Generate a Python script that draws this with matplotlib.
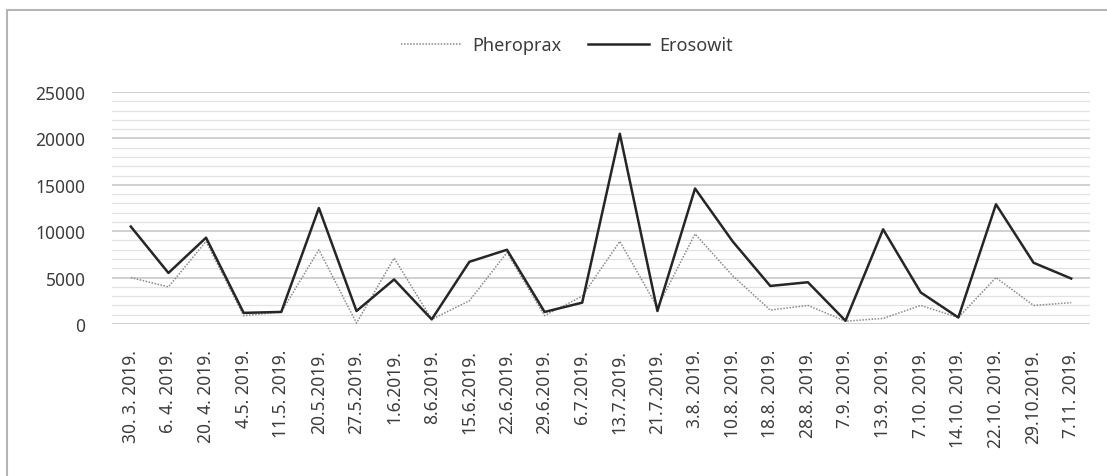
import numpy as np
import matplotlib
matplotlib.use("Agg")
from matplotlib import pyplot as plt
from matplotlib.patches import Rectangle

plt.rcParams['font.family'] = ['Noto Sans', 'DejaVu Sans']

# Dates (category labels, as printed in the source)
dates = ["30. 3. 2019.", "6. 4. 2019.", "20. 4. 2019.", "4.5. 2019.", "11.5. 2019.",
         "20.5.2019.", "27.5.2019.", "1.6.2019.", "8.6.2019.", "15.6.2019.",
         "22.6.2019.", "29.6.2019.", "6.7.2019.", "13.7.2019.", "21.7.2019.",
         "3.8. 2019.", "10.8. 2019.", "18.8. 2019.", "28.8. 2019.", "7.9. 2019.",
         "13.9. 2019.", "7.10. 2019.", "14.10. 2019.", "22.10. 2019.", "29.10.2019.",
         "7.11. 2019."]

pheroprax = [5000, 4000, 8900, 900, 1300, 8000, 100, 7100, 500, 2500,
             7700, 900, 3000, 8900, 1800, 9700, 5200, 1500, 2000, 300,
             600, 2000, 700, 5000, 2000, 2300]

erosowit = [10500, 5500, 9300, 1200, 1300, 12500, 1400, 4800, 500, 6700,
            8000, 1300, 2300, 20500, 1400, 14600, 8900, 4100, 4500, 350,
            10200, 3400, 700, 12900, 6600, 4900]

text_col = '#3c3c3c'

fig = plt.figure(figsize=(11.07, 4.77), dpi=100)
ax = fig.add_axes([112 / 1107, 1 - 325 / 477, (1090 - 112) / 1107, (325 - 93) / 477])

x = np.arange(len(dates))
ax.plot(x, pheroprax, color='#8a8a8a', lw=1.1, ls=(0, (1, 1)), label='Pheroprax', clip_on=False)
ax.plot(x, erosowit, color='#262626', lw=1.8, label='Erosowit', clip_on=False)

ax.set_xlim(-0.5, len(dates) - 0.5)
ax.set_ylim(0, 25000)
ax.set_yticks(np.arange(0, 25001, 5000))
ax.set_yticks(np.arange(0, 25001, 1000), minor=True)
ax.grid(axis='y', which='major', color='#c4c4c4', lw=1.1)
ax.grid(axis='y', which='minor', color='#e2e2e2', lw=0.9)
ax.set_axisbelow(True)
for s in ax.spines.values():
    s.set_visible(False)

ax.set_xticks(x)
ax.set_xticklabels(dates, rotation=90, fontsize=12.5, color=text_col)
ax.tick_params(axis='both', which='both', length=0, colors=text_col)
ax.tick_params(axis='x', pad=18)
ax.tick_params(axis='y', pad=19, labelsize=12.5)

leg = fig.legend(loc='center', bbox_to_anchor=(0.512, 1 - 46 / 477), ncol=2, frameon=False,
                 fontsize=13, handlelength=3.4, columnspacing=1.5, handletextpad=0.55)
for t in leg.get_texts():
    t.set_color(text_col)

# outer chart border
fig.patches.append(Rectangle((7 / 1107, -0.1), 1.2, 1.1 - 11 / 477, transform=fig.transFigure,
                             fill=False, edgecolor='#b5b5b5', lw=1.5))

fig.savefig('out.png', dpi=100, facecolor='white')
